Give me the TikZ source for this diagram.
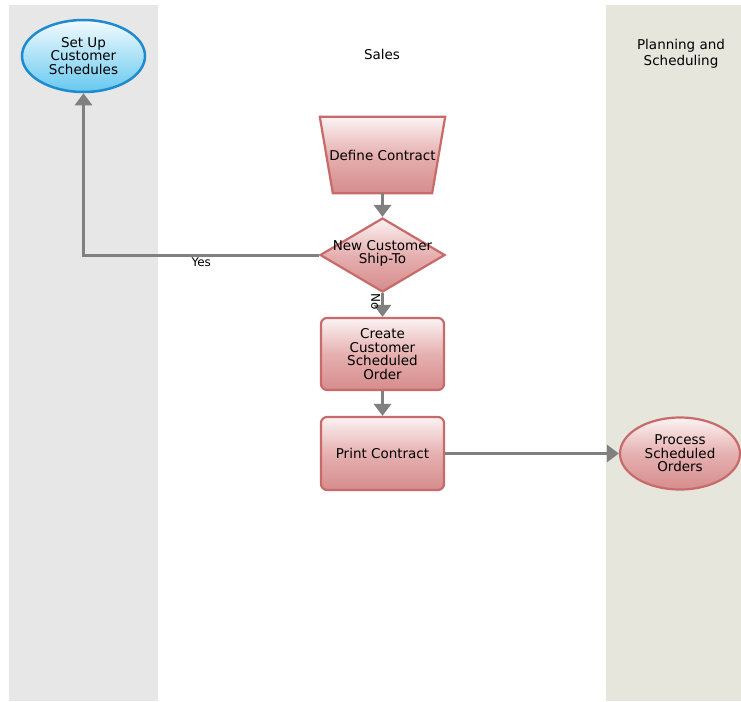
\documentclass[tikz,border=0pt]{standalone}
\usepackage{fontspec}
\setmainfont{DejaVu Sans}
\usetikzlibrary{shapes.geometric,arrows.meta,calc}
\definecolor{lanegray}{HTML}{E7E7E7}
\definecolor{lanebeige}{HTML}{E6E6DD}
\definecolor{redborder}{HTML}{C86A6A}
\definecolor{redtop}{HTML}{FCF3F3}
\definecolor{redmid}{HTML}{E6B0B0}
\definecolor{redbot}{HTML}{D68C8C}
\definecolor{bluetop}{HTML}{F3FBFE}
\definecolor{bluebot}{HTML}{66C8F0}
\definecolor{blueborder}{HTML}{1F8BCF}
\definecolor{arrowgray}{HTML}{808080}
\begin{document}
\begin{tikzpicture}[x=1pt,y=-1pt,
  txt/.style={font=\fontsize{13.5}{13.5}\selectfont, align=center, text=black},
  hdr/.style={font=\fontsize{13.5}{16}\selectfont, align=center, text=black},
  redfill/.style={draw=redborder, line width=2.2pt, top color=redtop, bottom color=redbot, middle color=redmid},
  bluefill/.style={draw=blueborder, line width=2.5pt, top color=bluetop, bottom color=bluebot},
  procbox/.style={rectangle, rounded corners=6pt, minimum width=123pt, minimum height=72pt, inner sep=0pt, redfill, txt},
  arr/.style={draw=arrowgray, line width=3pt, -{Triangle[width=17pt,length=12pt]}},
  lbl/.style={font=\fontsize{12}{12}\selectfont, text=black, inner sep=1pt}]
\useasboundingbox (0,0) rectangle (741,701);
\fill[white] (0,0) rectangle (741,701);
% lanes
\fill[lanegray] (9,5) rectangle (158,701);
\fill[lanebeige] (606,5) rectangle (741,701);
% headers
\node[hdr] (sales) at (382,54) {Sales};
\node[hdr] (plan) at (681,54) {Planning and\\Scheduling};
% nodes
\node[ellipse, minimum width=123pt, minimum height=72pt, inner sep=0pt, bluefill, txt] (ssc) at (83.5,56) {Set Up\\Customer\\Schedules};
\node[rectangle, minimum width=125pt, minimum height=76pt, inner sep=0pt] (dc) at (382.5,155) {};
\path[redfill] (dc.north west) -- (dc.north east) -- ($(dc.south east)+(-13,0)$) -- ($(dc.south west)+(13,0)$) -- cycle;
\node[txt] at (dc) {Define Contract};
\node[diamond, minimum width=125pt, minimum height=74pt, inner sep=0pt, redfill] (nc) at (382.5,255) {};
\node[txt] at (382.5,253.5) {New Customer\\Ship-To};
\node[procbox] (cso) at (382.5,354) {Create\\Customer\\Scheduled\\Order};
\node[procbox, minimum height=73pt] (pc) at (382.5,453.5) {Print Contract};
\node[ellipse, minimum width=120pt, minimum height=72pt, inner sep=0pt, redfill, txt] (pso) at (680,453.5) {Process\\Scheduled\\Orders};
% connectors
\draw[arr] (dc.south) -- (nc.north);
\draw[arr] (nc.west) -| node[pos=0.25, below, lbl] {Yes} (ssc.south);
\draw[arr] (nc.south) -- node[pos=0.35, rotate=-90, anchor=north, lbl] {No} (cso.north);
\draw[arr] (cso.south) -- (pc.north);
\draw[arr] (pc.east) -- (pso.west);
\end{tikzpicture}
\end{document}
